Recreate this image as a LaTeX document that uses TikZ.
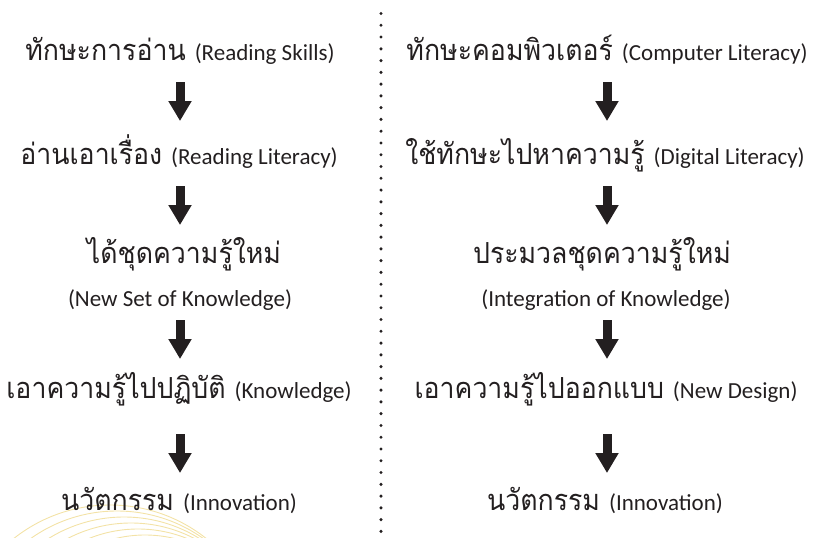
\documentclass[tikz,border=0pt]{standalone}
\usepackage{fontspec}
\newfontfamily\thai[Script=Thai, FakeStretch=0.92]{Loma}
\newfontfamily\latinfont{Carlito}
\usetikzlibrary{arrows.meta}
\definecolor{ink}{HTML}{231F20}
\definecolor{arcyellow}{HTML}{F3E2A6}
\newcommand\en[1]{{\latinfont\fontsize{23}{26}\selectfont #1}}
\tikzset{
  th/.style={font=\thai\fontsize{29}{34}\selectfont, text=ink, inner sep=0pt, anchor=base},
  bigarrow/.style={draw=ink, line width=9pt, -{Triangle[length=20pt,width=22pt]}},
  dividerdot/.style={fill=ink},
  decoarc/.style={draw=arcyellow, line width=0.9pt},
}
\begin{document}
\begin{tikzpicture}[x=1pt,y=-1pt]
\useasboundingbox (0,0) rectangle (814,538);
% decorative arcs
\begin{scope}
\clip (0,480) rectangle (320,538);
\foreach \i in {0,...,5}
  \draw[decoarc] ({110+7*\i},660) circle ({155-6*\i});
\end{scope}
% divider
\foreach \i in {0,...,45}
  \fill[dividerdot] (381,{13.5+11.77*\i}) circle (1.7);
% left column
\node[th] (l1) at (180,60) {ทักษะการอ่าน \en{(Reading Skills)}};
\node[th] (l2) at (179,164) {อ่านเอาเรื่อง \en{(Reading Literacy)}};
\node[th] (l3) at (184,263) {ได้ชุดความรู้ใหม่};
\node[th] (l3e) at (180,306) {\en{(New Set of Knowledge)}};
\node[th] (l4) at (179,398) {เอาความรู้ไปปฏิบัติ \en{(Knowledge)}};
\node[th] (l5) at (179,510) {นวัตกรรม \en{(Innovation)}};
% right column
\node[th] (r1) at (607,60) {ทักษะคอมพิวเตอร์ \en{(Computer Literacy)}};
\node[th] (r2) at (605,164) {ใช้ทักษะไปหาความรู้ \en{(Digital Literacy)}};
\node[th] (r3) at (602,263) {ประมวลชุดความรู้ใหม่};
\node[th] (r3e) at (606,306) {\en{(Integration of Knowledge)}};
\node[th] (r4) at (606,398) {เอาความรู้ไปออกแบบ \en{(New Design)}};
\node[th] (r5) at (605,510) {นวัตกรรม \en{(Innovation)}};
% arrows
\draw[bigarrow, shorten <=22pt, shorten >=43pt] (l1.base) -- (l1.base |- l2.base);
\draw[bigarrow, shorten <=22pt, shorten >=38pt] (l1.base |- l2.base) -- (l1.base |- l3.base);
\draw[bigarrow, shorten <=14pt, shorten >=39pt] (l3e.base) -- (l3e.base |- l4.base);
\draw[bigarrow, shorten <=36pt, shorten >=37pt] (l3e.base |- l4.base) -- (l3e.base |- l5.base);
\draw[bigarrow, shorten <=22pt, shorten >=43pt] (r1.base) -- (r1.base |- r2.base);
\draw[bigarrow, shorten <=22pt, shorten >=38pt] (r1.base |- r2.base) -- (r1.base |- r3.base);
\draw[bigarrow, shorten <=14pt, shorten >=39pt] (r1.base |- r3e.base) -- (r1.base |- r4.base);
\draw[bigarrow, shorten <=36pt, shorten >=37pt] (r1.base |- r4.base) -- (r1.base |- r5.base);
\end{tikzpicture}
\end{document}
